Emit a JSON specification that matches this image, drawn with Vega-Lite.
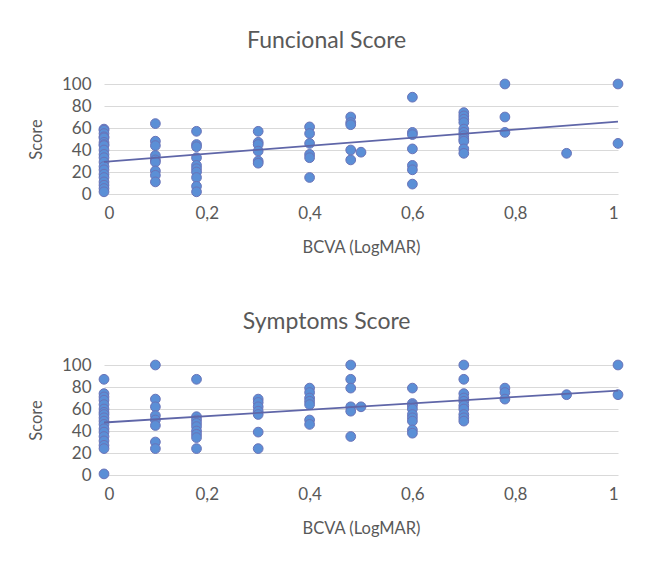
{
  "$schema": "https://vega.github.io/schema/vega-lite/v6.json",
  "background": "white",
  "padding": {"left": 28, "top": 30, "right": 20, "bottom": 5},
  "config": {
    "font": "Lato",
    "view": {"stroke": null},
    "title": {"fontSize": 23, "fontWeight": "normal", "color": "#595959", "font": "Lato", "offset": 22, "frame": "bounds", "anchor": "middle"},
    "axis": {
      "labelFont": "Lato", "titleFont": "Lato",
      "labelFontSize": 17, "titleFontSize": 16.5, "titleFontWeight": "normal",
      "labelColor": "#595959", "titleColor": "#595959",
      "domain": false, "ticks": false, "labelOverlap": false,
      "gridColor": "#d9d9d9", "gridWidth": 1
    },
    "concat": {"spacing": 55}
  },
  "datasets": {
    "func": [
      {"bcva": 0, "score": 59}, {"bcva": 0, "score": 58}, {"bcva": 0, "score": 55}, {"bcva": 0, "score": 52}, {"bcva": 0, "score": 51}, {"bcva": 0, "score": 47},
      {"bcva": 0, "score": 45}, {"bcva": 0, "score": 44}, {"bcva": 0, "score": 40}, {"bcva": 0, "score": 36}, {"bcva": 0, "score": 33},
      {"bcva": 0, "score": 29}, {"bcva": 0, "score": 25}, {"bcva": 0, "score": 22}, {"bcva": 0, "score": 18},
      {"bcva": 0, "score": 15}, {"bcva": 0, "score": 11}, {"bcva": 0, "score": 8}, {"bcva": 0, "score": 5},
      {"bcva": 0, "score": 2},
      {"bcva": 0.1, "score": 64}, {"bcva": 0.1, "score": 48}, {"bcva": 0.1, "score": 44}, {"bcva": 0.1, "score": 35},
      {"bcva": 0.1, "score": 31}, {"bcva": 0.1, "score": 29}, {"bcva": 0.1, "score": 21}, {"bcva": 0.1, "score": 17},
      {"bcva": 0.1, "score": 11},
      {"bcva": 0.18, "score": 57}, {"bcva": 0.18, "score": 45}, {"bcva": 0.18, "score": 43}, {"bcva": 0.18, "score": 33},
      {"bcva": 0.18, "score": 26}, {"bcva": 0.18, "score": 23}, {"bcva": 0.18, "score": 20}, {"bcva": 0.18, "score": 15},
      {"bcva": 0.18, "score": 7}, {"bcva": 0.18, "score": 2},
      {"bcva": 0.3, "score": 57}, {"bcva": 0.3, "score": 47}, {"bcva": 0.3, "score": 45}, {"bcva": 0.3, "score": 39},
      {"bcva": 0.3, "score": 30}, {"bcva": 0.3, "score": 28},
      {"bcva": 0.4, "score": 61}, {"bcva": 0.4, "score": 55}, {"bcva": 0.4, "score": 46}, {"bcva": 0.4, "score": 36},
      {"bcva": 0.4, "score": 33}, {"bcva": 0.4, "score": 15},
      {"bcva": 0.48, "score": 70}, {"bcva": 0.48, "score": 65}, {"bcva": 0.48, "score": 63}, {"bcva": 0.48, "score": 40},
      {"bcva": 0.48, "score": 31},
      {"bcva": 0.5, "score": 38},
      {"bcva": 0.6, "score": 88}, {"bcva": 0.6, "score": 56}, {"bcva": 0.6, "score": 54}, {"bcva": 0.6, "score": 41},
      {"bcva": 0.6, "score": 26}, {"bcva": 0.6, "score": 22}, {"bcva": 0.6, "score": 9},
      {"bcva": 0.7, "score": 74}, {"bcva": 0.7, "score": 71}, {"bcva": 0.7, "score": 68}, {"bcva": 0.7, "score": 65},
      {"bcva": 0.7, "score": 59}, {"bcva": 0.7, "score": 56}, {"bcva": 0.7, "score": 53}, {"bcva": 0.7, "score": 50},
      {"bcva": 0.7, "score": 48}, {"bcva": 0.7, "score": 41}, {"bcva": 0.7, "score": 37},
      {"bcva": 0.78, "score": 100}, {"bcva": 0.78, "score": 70}, {"bcva": 0.78, "score": 56},
      {"bcva": 0.9, "score": 37},
      {"bcva": 1, "score": 100}, {"bcva": 1, "score": 46}
    ],
    "symp": [
      {"bcva": 0, "score": 87}, {"bcva": 0, "score": 74}, {"bcva": 0, "score": 71}, {"bcva": 0, "score": 68},
      {"bcva": 0, "score": 64}, {"bcva": 0, "score": 60}, {"bcva": 0, "score": 57}, {"bcva": 0, "score": 55},
      {"bcva": 0, "score": 52}, {"bcva": 0, "score": 49}, {"bcva": 0, "score": 46}, {"bcva": 0, "score": 42},
      {"bcva": 0, "score": 39}, {"bcva": 0, "score": 35}, {"bcva": 0, "score": 31}, {"bcva": 0, "score": 27},
      {"bcva": 0, "score": 24}, {"bcva": 0, "score": 1},
      {"bcva": 0.1, "score": 100}, {"bcva": 0.1, "score": 69}, {"bcva": 0.1, "score": 62}, {"bcva": 0.1, "score": 54},
      {"bcva": 0.1, "score": 50}, {"bcva": 0.1, "score": 45}, {"bcva": 0.1, "score": 30}, {"bcva": 0.1, "score": 24},
      {"bcva": 0.18, "score": 87}, {"bcva": 0.18, "score": 53}, {"bcva": 0.18, "score": 50}, {"bcva": 0.18, "score": 47},
      {"bcva": 0.18, "score": 44}, {"bcva": 0.18, "score": 40}, {"bcva": 0.18, "score": 37}, {"bcva": 0.18, "score": 34},
      {"bcva": 0.18, "score": 24},
      {"bcva": 0.3, "score": 69}, {"bcva": 0.3, "score": 66}, {"bcva": 0.3, "score": 62}, {"bcva": 0.3, "score": 58},
      {"bcva": 0.3, "score": 55}, {"bcva": 0.3, "score": 39}, {"bcva": 0.3, "score": 24},
      {"bcva": 0.4, "score": 79}, {"bcva": 0.4, "score": 75}, {"bcva": 0.4, "score": 70}, {"bcva": 0.4, "score": 67},
      {"bcva": 0.4, "score": 64}, {"bcva": 0.4, "score": 50}, {"bcva": 0.4, "score": 46},
      {"bcva": 0.48, "score": 100}, {"bcva": 0.48, "score": 87}, {"bcva": 0.48, "score": 79}, {"bcva": 0.48, "score": 62},
      {"bcva": 0.48, "score": 58}, {"bcva": 0.48, "score": 35},
      {"bcva": 0.5, "score": 62},
      {"bcva": 0.6, "score": 79}, {"bcva": 0.6, "score": 65}, {"bcva": 0.6, "score": 63}, {"bcva": 0.6, "score": 60},
      {"bcva": 0.6, "score": 55}, {"bcva": 0.6, "score": 52}, {"bcva": 0.6, "score": 49}, {"bcva": 0.6, "score": 41},
      {"bcva": 0.6, "score": 38},
      {"bcva": 0.7, "score": 100}, {"bcva": 0.7, "score": 87}, {"bcva": 0.7, "score": 74}, {"bcva": 0.7, "score": 70},
      {"bcva": 0.7, "score": 67}, {"bcva": 0.7, "score": 63}, {"bcva": 0.7, "score": 60}, {"bcva": 0.7, "score": 55},
      {"bcva": 0.7, "score": 52}, {"bcva": 0.7, "score": 49},
      {"bcva": 0.78, "score": 79}, {"bcva": 0.78, "score": 75}, {"bcva": 0.78, "score": 69},
      {"bcva": 0.9, "score": 73},
      {"bcva": 1, "score": 100}, {"bcva": 1, "score": 73}
    ]
  },
  "vconcat": [
    {
      "title": "Funcional Score",
      "width": 514,
      "height": 110,
      "data": {"name": "func"},
      "encoding": {
        "x": {"field": "bcva", "type": "quantitative", "title": "BCVA (LogMAR)",
          "scale": {"domain": [0, 1], "nice": false},
          "axis": {"values": [0, 0.2, 0.4, 0.6, 0.8, 1], "tickCount": 6, "grid": false, "labelPadding": 11, "titlePadding": 18,
            "labelExpr": "replace(format(datum.value, '~g'), '.', ',')"}},
        "y": {"field": "score", "type": "quantitative", "title": "Score",
          "scale": {"domain": [0, 100], "nice": false},
          "axis": {"values": [0, 20, 40, 60, 80, 100], "tickCount": 6, "labelPadding": 13, "titlePadding": 17}}
      },
      "layer": [
        {
          "mark": {"type": "point", "filled": true, "size": 95, "fill": "#5B8FD6", "stroke": "#6A73B8", "strokeWidth": 1, "opacity": 1}
        },
        {
          "transform": [{"regression": "score", "on": "bcva", "extent": [0, 1]}],
          "mark": {"type": "line", "color": "#5F66A8", "strokeWidth": 1.8}
        }
      ]
    },
    {
      "title": "Symptoms Score",
      "width": 514,
      "height": 110,
      "data": {"name": "symp"},
      "encoding": {
        "x": {"field": "bcva", "type": "quantitative", "title": "BCVA (LogMAR)",
          "scale": {"domain": [0, 1], "nice": false},
          "axis": {"values": [0, 0.2, 0.4, 0.6, 0.8, 1], "tickCount": 6, "grid": false, "labelPadding": 11, "titlePadding": 18,
            "labelExpr": "replace(format(datum.value, '~g'), '.', ',')"}},
        "y": {"field": "score", "type": "quantitative", "title": "Score",
          "scale": {"domain": [0, 100], "nice": false},
          "axis": {"values": [0, 20, 40, 60, 80, 100], "tickCount": 6, "labelPadding": 13, "titlePadding": 17}}
      },
      "layer": [
        {
          "mark": {"type": "point", "filled": true, "size": 95, "fill": "#5B8FD6", "stroke": "#6A73B8", "strokeWidth": 1, "opacity": 1}
        },
        {
          "transform": [{"regression": "score", "on": "bcva", "extent": [0, 1]}],
          "mark": {"type": "line", "color": "#5F66A8", "strokeWidth": 1.8}
        }
      ]
    }
  ]
}
